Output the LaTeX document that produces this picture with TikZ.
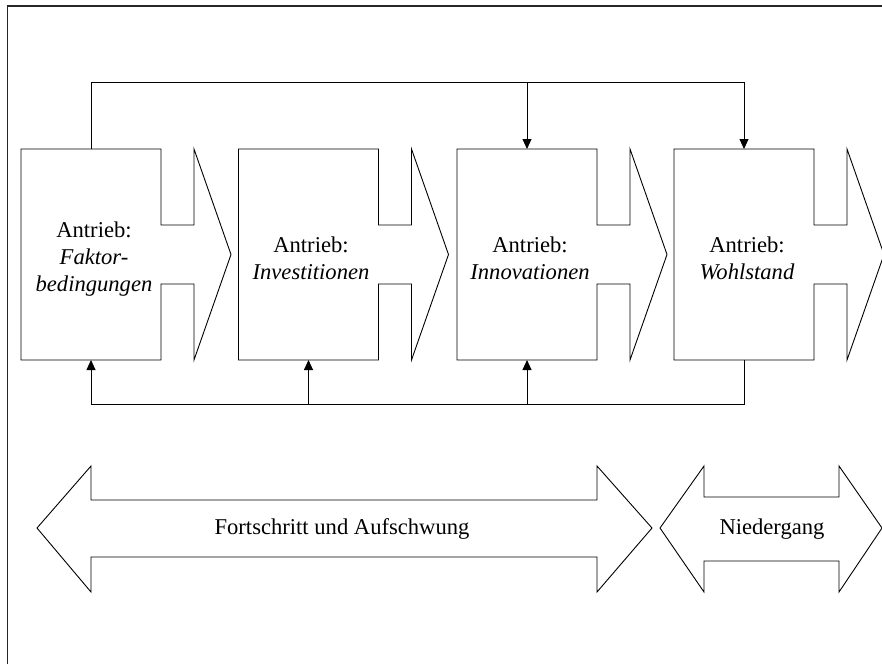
\documentclass[tikz,border=0pt]{standalone}
\usepackage{fontspec}
\setmainfont{Liberation Serif}
\usetikzlibrary{arrows.meta}

\tikzset{
  stage/.style={rectangle, draw=none, minimum width=140pt, minimum height=211pt,
                inner sep=0pt, outer sep=0pt},
  stagetext/.style={align=center, inner sep=0pt,
                    font=\fontsize{22.6}{27}\selectfont},
  outline/.style={draw=black, line width=0.9pt, line join=miter},
  feedback/.style={draw=black, line width=0.9pt,
                   -{Triangle[length=10pt,width=9pt]}},
  frame/.style={draw=black!85, line width=1.3pt},
  phasetext/.style={inner sep=0pt, font=\fontsize{22.6}{27}\selectfont},
}

% box with a notched shaft and an open chevron head to its right
\newcommand\stageoutline[1]{%
  \draw[outline] (#1.north west) -- (#1.north east) -- ++(0,76) -- ++(33,0)
    -- ++(0,-76) -- ++(37,105.5) -- ++(-37,105.5) -- ++(0,-76) -- ++(-33,0)
    -- ++(0,76) -- (#1.south west) -- cycle;}

\begin{document}
\begin{tikzpicture}[x=1pt, y=-1pt]
  \useasboundingbox (0,0) rectangle (882,664);

  % page frame (top and left edges)
  \draw[frame] (7.5,664) -- (7.5,6) -- (882,6);

  % the four stages
  \node[stage] (b1) at (91,254.5) {};
  \node[stage] (b2) at (308.5,254.5) {};
  \node[stage] (b3) at (527,254.5) {};
  \node[stage] (b4) at (744,254.5) {};
  \stageoutline{b1}
  \stageoutline{b2}
  \stageoutline{b3}
  \stageoutline{b4}

  \node[stagetext] (t1) at (94,259) {Antrieb:\\\textit{Faktor-}\\\textit{bedingungen}};
  \node[stagetext] (t2) at (311,258) {Antrieb:\\\textit{Investitionen}};
  \node[stagetext] (t3) at (530,258) {Antrieb:\\\textit{Innovationen}};
  \node[stagetext] (t4) at (747,258) {Antrieb:\\\textit{Wohlstand}};

  % feedback loops
  \coordinate (fbtop) at (0,82);
  \coordinate (fbbot) at (0,404.5);

  \draw[feedback] (b1.north) -- (b1.north |- fbtop) -- (b4.north |- fbtop) -- (b4.north);
  \draw[feedback] (b3.north |- fbtop) -- (b3.north);

  \draw[feedback] (b4.south) -- (b4.south |- fbbot) -- (b1.south |- fbbot) -- (b1.south);
  \draw[feedback] (b2.south |- fbbot) -- (b2.south);
  \draw[feedback] (b3.south |- fbbot) -- (b3.south);

  % phase arrows
  \draw[outline] (37,528) -- (91,466) -- (91,500) -- (597,500) -- (597,466)
    -- (652,528) -- (597,592) -- (597,557) -- (91,557) -- (91,592) -- cycle;
  \node[phasetext] (p1) at (342,529) {Fortschritt und Aufschwung};

  \draw[outline] (660,528) -- (704,466) -- (704,497) -- (839,497) -- (839,466)
    -- (882,528) -- (839,592) -- (839,561) -- (704,561) -- (704,592) -- cycle;
  \node[phasetext] (p2) at (772,529) {Niedergang};
\end{tikzpicture}
\end{document}
